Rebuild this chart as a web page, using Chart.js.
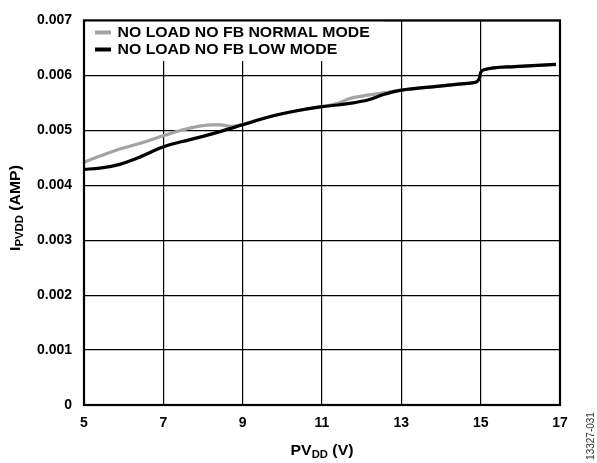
<!DOCTYPE html>
<html>
<head>
<meta charset="utf-8">
<script src="https://cdn.jsdelivr.net/npm/chart.js@4"></script>
<style>
  html, body { margin: 0; padding: 0; background: #fff; }
  #wrap { width: 597px; height: 463px; }
</style>
</head>
<body>
<div id="wrap"><canvas id="c" width="597" height="463"></canvas></div>
<script>
// ---- data ----
const seriesNames = ["NO LOAD NO FB NORMAL MODE", "NO LOAD NO FB LOW MODE"];
const normalV = [5, 5.4, 5.9, 6.4, 7, 7.45, 7.95, 8.2, 8.45, 8.7, 9, 9.7, 10.4, 11, 11.4, 11.7, 12.15, 12.55, 13, 13.9, 14.75, 14.9, 14.97, 15.0, 15.08, 15.85, 16.9];
const normalI = [0.00442, 0.00453, 0.00466, 0.00476, 0.00490, 0.00500, 0.00508, 0.00510, 0.00510, 0.00507, 0.00511, 0.00525, 0.00536, 0.00543, 0.00549, 0.00558, 0.00564, 0.00568, 0.00573, 0.00580, 0.00586, 0.00588, 0.00595, 0.00605, 0.00610, 0.00616, 0.00620];
const lowV = [5, 5.4, 5.9, 6.4, 7, 7.45, 7.95, 8.45, 9, 9.7, 10.4, 11, 11.4, 11.7, 12.15, 12.55, 13, 13.9, 14.75, 14.9, 14.97, 15.0, 15.08, 15.85, 16.9];
const lowI = [0.00429, 0.00431, 0.00438, 0.00451, 0.00470, 0.00479, 0.00488, 0.00498, 0.00510, 0.00525, 0.00536, 0.00543, 0.00546, 0.00549, 0.00555, 0.00565, 0.00573, 0.00580, 0.00586, 0.00588, 0.00595, 0.00605, 0.00610, 0.00616, 0.00620];
const xTickValues = [5, 7, 9, 11, 13, 15, 17];
const yTickLabels = ["0", "0.001", "0.002", "0.003", "0.004", "0.005", "0.006", "0.007"];
const xTitleParts = ["PV", "DD", " (V)"];
const yTitleParts = ["I", "PVDD", " (AMP)"];
const figureId = "13327-031";

// ---- styles ----
const FONT = "'Liberation Sans', Arial, Helvetica, sans-serif";
const GRAY = "#a3a3a3";
const BLACK = "#000000";
const SX = 1.13; // horizontal glyph stretch of the reference lettering

function pts(xs, ys) { return xs.map((x, i) => ({ x: x, y: ys[i] })); }

function drawParts(ctx, parts, fonts, offs, cx, by, sx) {
  // draws a run of text parts centred at cx (in the current frame) with baseline by
  ctx.save();
  ctx.scale(sx, 1);
  const ws = parts.map((p, i) => { ctx.font = fonts[i]; return ctx.measureText(p).width; });
  const total = ws.reduce((s, w) => s + w, 0);
  let x = cx / sx - total / 2;
  parts.forEach((p, i) => {
    ctx.font = fonts[i];
    ctx.fillText(p, x, by + offs[i]);
    x += ws[i];
  });
  ctx.restore();
}

const deco = {
  id: 'deco',
  afterDraw(chart) {
    const ctx = chart.ctx;
    const a = chart.chartArea;
    ctx.save();
    // legend background
    ctx.fillStyle = '#fff';
    ctx.fillRect(a.left + 2, 21, 298, 40);
    // legend entries
    const ds = chart.data.datasets;
    const rows = [32.5, 49.5];
    ds.forEach((d, i) => {
      ctx.strokeStyle = d.borderColor;
      ctx.lineWidth = 4;
      ctx.lineCap = 'butt';
      ctx.beginPath();
      ctx.moveTo(95, rows[i]);
      ctx.lineTo(111, rows[i]);
      ctx.stroke();
      ctx.save();
      ctx.scale(SX, 1);
      ctx.fillStyle = '#000';
      ctx.font = "bold 14px " + FONT;
      ctx.textBaseline = 'middle';
      ctx.textAlign = 'left';
      ctx.fillText(d.label, 117.5 / SX, rows[i] + 0.5);
      ctx.restore();
    });
    // plot frame
    ctx.strokeStyle = '#000';
    ctx.lineWidth = 2.2;
    ctx.strokeRect(a.left, a.top, a.right - a.left, a.bottom - a.top);

    const big = "bold 14px " + FONT, small = "bold 10px " + FONT;
    ctx.fillStyle = '#000';
    ctx.textBaseline = 'alphabetic';
    ctx.textAlign = 'left';

    // x title with subscript
    drawParts(ctx, xTitleParts, [big, small, big], [0, 3.5, 0], 322, 454.5, SX);

    // y title rotated
    ctx.save();
    ctx.translate(19.5, 208);
    ctx.rotate(-Math.PI / 2);
    drawParts(ctx, yTitleParts, [big, small, big], [0, 3.5, 0], 0, 0, SX);
    ctx.restore();

    // figure id
    ctx.save();
    ctx.translate(591, 436);
    ctx.rotate(-Math.PI / 2);
    ctx.font = "10px " + FONT;
    ctx.fillStyle = '#333';
    ctx.textAlign = 'center';
    ctx.textBaseline = 'middle';
    ctx.fillText(figureId, 0, 0);
    ctx.restore();

    ctx.restore();
  }
};

new Chart(document.getElementById('c'), {
  type: 'line',
  data: {
    datasets: [
      { label: seriesNames[0], data: pts(normalV, normalI), borderColor: GRAY, borderWidth: 3.2,
        pointRadius: 0, cubicInterpolationMode: 'monotone', fill: false, order: 2 },
      { label: seriesNames[1], data: pts(lowV, lowI), borderColor: BLACK, borderWidth: 3.2,
        pointRadius: 0, cubicInterpolationMode: 'monotone', fill: false, order: 1 }
    ]
  },
  options: {
    responsive: false,
    animation: false,
    devicePixelRatio: 1,
    layout: { padding: { left: 0, top: 16, right: 37, bottom: 0 } },
    plugins: { legend: { display: false }, tooltip: { enabled: false } },
    scales: {
      x: {
        type: 'linear', min: 5, max: 17,
        afterBuildTicks(scale) { scale.ticks = xTickValues.map(v => ({ value: v })); },
        afterFit(scale) { scale.height = 58; },
        ticks: { padding: 10, color: '#000', font: { family: FONT, size: 14, weight: 'bold' },
                 callback: (v) => String(v), maxRotation: 0 },
        grid: { color: '#000', lineWidth: 1.2, drawTicks: false },
        border: { display: false }
      },
      y: {
        type: 'linear', min: 0, max: 0.007,
        afterBuildTicks(scale) { scale.ticks = yTickLabels.map(s => ({ value: parseFloat(s) })); },
        afterFit(scale) { scale.width = 84; },
        ticks: { padding: 12, color: '#000', font: { family: FONT, size: 14, weight: 'bold' },
                 callback: (v, i) => yTickLabels[i] },
        grid: { color: '#000', lineWidth: 1.2, drawTicks: false },
        border: { display: false }
      }
    }
  },
  plugins: [deco]
});
</script>
</body>
</html>
